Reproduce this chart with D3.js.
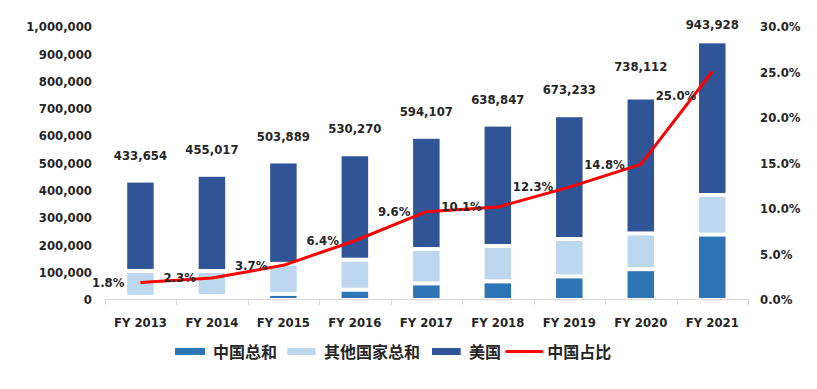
<!DOCTYPE html>
<html><head><meta charset="utf-8">
<script src="https://cdn.jsdelivr.net/npm/d3@7"></script>
<style>body{margin:0;background:#fff}svg{display:block}</style>
</head><body><svg id="c" width="817" height="389"></svg>
<script>
const categories = ["FY 2013","FY 2014","FY 2015","FY 2016","FY 2017","FY 2018","FY 2019","FY 2020","FY 2021"];
const totals = [433654,455017,503889,530270,594107,638847,673233,738112,943928];
const chinaShare = [1.8,2.3,3.7,6.4,9.6,10.1,12.3,14.8,25.0];
const chinaVals = [7800,10500,18600,33900,57000,64500,82800,109200,236000];
const otherVals = [95000,92000,110000,110000,126000,129600,137000,131000,145000];
const usVals = [330900,352500,375300,386400,411100,444700,453400,497900,562900];
const leftTicks = [0,100000,200000,300000,400000,500000,600000,700000,800000,900000,1000000];
const rightTicks = [0,5,10,15,20,25,30];
const seriesNames = ["中国总和","其他国家总和","美国","中国占比"];

const colors = ["#2E75B6","#BDD7EE","#2F5597"];
const red = "#FF0000";
const txt = "#262626";
const font = "'DejaVu Sans', Verdana, sans-serif";
const cjk = "'Noto Sans CJK SC', sans-serif";
const fs = 11.7;

const svg = d3.select("#c");
const x = d3.scaleBand().domain(categories).range([104.7, 748]).paddingInner(0).paddingOuter(0);
const y = d3.scaleLinear().domain([0, 1000000]).range([299, 26]);
const y2 = d3.scaleLinear().domain([0, 30]).range([299, 26]);
const bw = 26.5;

const rows = categories.map((c,i)=>({cat:c, china:chinaVals[i], other:otherVals[i], us:usVals[i]}));
const stack = d3.stack().keys(["china","other","us"])(rows);

// left axis labels
svg.append("g").selectAll("text").data(leftTicks).join("text")
  .attr("x", 92).attr("y", d=>y(d)+1).attr("dy","0.36em")
  .attr("text-anchor","end").attr("font-family",font).attr("font-weight","bold")
  .attr("font-size",fs).attr("fill",txt).text(d=>d3.format(",")(d));
// right axis labels
svg.append("g").selectAll("text").data(rightTicks).join("text")
  .attr("x", 760).attr("y", d=>y2(d)+1).attr("dy","0.36em")
  .attr("text-anchor","start").attr("font-family",font).attr("font-weight","bold")
  .attr("font-size",fs).attr("fill",txt).text(d=>d.toFixed(1)+"%");

// bars
stack.forEach((s,k)=>{
  svg.append("g").selectAll("rect").data(s).join("rect")
    .attr("x", d=>x(d.data.cat)+x.bandwidth()/2-bw/2)
    .attr("width", bw)
    .attr("y", d=>y(d[1])+2)
    .attr("height", d=>{
      const bot = k===0 ? y(d[0])-1 : y(d[0])-2;
      return Math.max(0, bot-(y(d[1])+2));
    })
    .attr("fill", colors[k]);
});

// x axis
const ax = svg.append("g");
ax.append("line").attr("x1",x.range()[0]).attr("x2",x.range()[1]).attr("y1",299.5).attr("y2",299.5)
  .attr("stroke","#D9D9D9").attr("stroke-width",1);
const bounds = categories.map(c=>x(c)).concat([x.range()[1]]);
ax.selectAll("line.t").data(bounds).join("line").attr("class","t")
  .attr("x1",d=>Math.round(d)+0.5).attr("x2",d=>Math.round(d)+0.5).attr("y1",299.5).attr("y2",305)
  .attr("stroke","#D9D9D9");
ax.selectAll("text").data(categories).join("text")
  .attr("x", d=>x(d)+x.bandwidth()/2).attr("y", 323).attr("dy","0.36em")
  .attr("text-anchor","middle").attr("font-family",font).attr("font-weight","bold")
  .attr("font-size",fs).attr("fill",txt).text(d=>d);

// line
const line = d3.line().x((d,i)=>x(categories[i])+x.bandwidth()/2).y(d=>y2(d));
svg.append("path").attr("d", line(chinaShare)).attr("fill","none")
  .attr("stroke",red).attr("stroke-width",3).attr("stroke-linejoin","round");

// pct labels
svg.append("g").selectAll("text").data(chinaShare).join("text")
  .attr("x",(d,i)=>x(categories[i])+x.bandwidth()/2-16)
  .attr("y",(d,i)=>y2(d) + (i===chinaShare.length-1 ? 24 : 0)).attr("dy","0.36em")
  .attr("text-anchor","end").attr("font-family",font).attr("font-weight","bold")
  .attr("font-size",fs).attr("fill",txt).text(d=>d.toFixed(1)+"%");

// total labels
svg.append("g").selectAll("text").data(totals).join("text")
  .attr("x",(d,i)=>x(categories[i])+x.bandwidth()/2)
  .attr("y",(d,i)=>{
    const n = totals.length;
    const off = i===n-1 ? 16.5 : (i===n-2 ? 30.5 : 25);
    return y(d)-off;
  }).attr("dy","0.36em")
  .attr("text-anchor","middle").attr("font-family",font).attr("font-weight","bold")
  .attr("font-size",fs).attr("fill",txt).text(d=>d3.format(",")(d));

// legend
const lg = svg.append("g");
const items = [
  {sx:175, sw:30, tx:213, type:"rect", c:colors[0]},
  {sx:287.3, sw:28.4, tx:324, type:"rect", c:colors[1]},
  {sx:432, sw:28.7, tx:469, type:"rect", c:colors[2]},
  {sx:506.7, sw:35, tx:547.3, type:"line", c:red}
];
items.forEach((it,i)=>{
  if(it.type==="rect"){
    lg.append("rect").attr("x",it.sx).attr("y",348).attr("width",it.sw).attr("height",7).attr("fill",it.c);
  } else {
    lg.append("line").attr("x1",it.sx).attr("x2",it.sx+it.sw).attr("y1",351.5).attr("y2",351.5)
      .attr("stroke",it.c).attr("stroke-width",3).attr("stroke-linecap","round");
  }
  lg.append("text").attr("x",it.tx).attr("y",352).attr("dy","0.36em")
    .attr("font-family",cjk).attr("font-weight","bold").attr("font-size",16)
    .attr("fill",txt).text(seriesNames[i]);
});
</script></body></html>
